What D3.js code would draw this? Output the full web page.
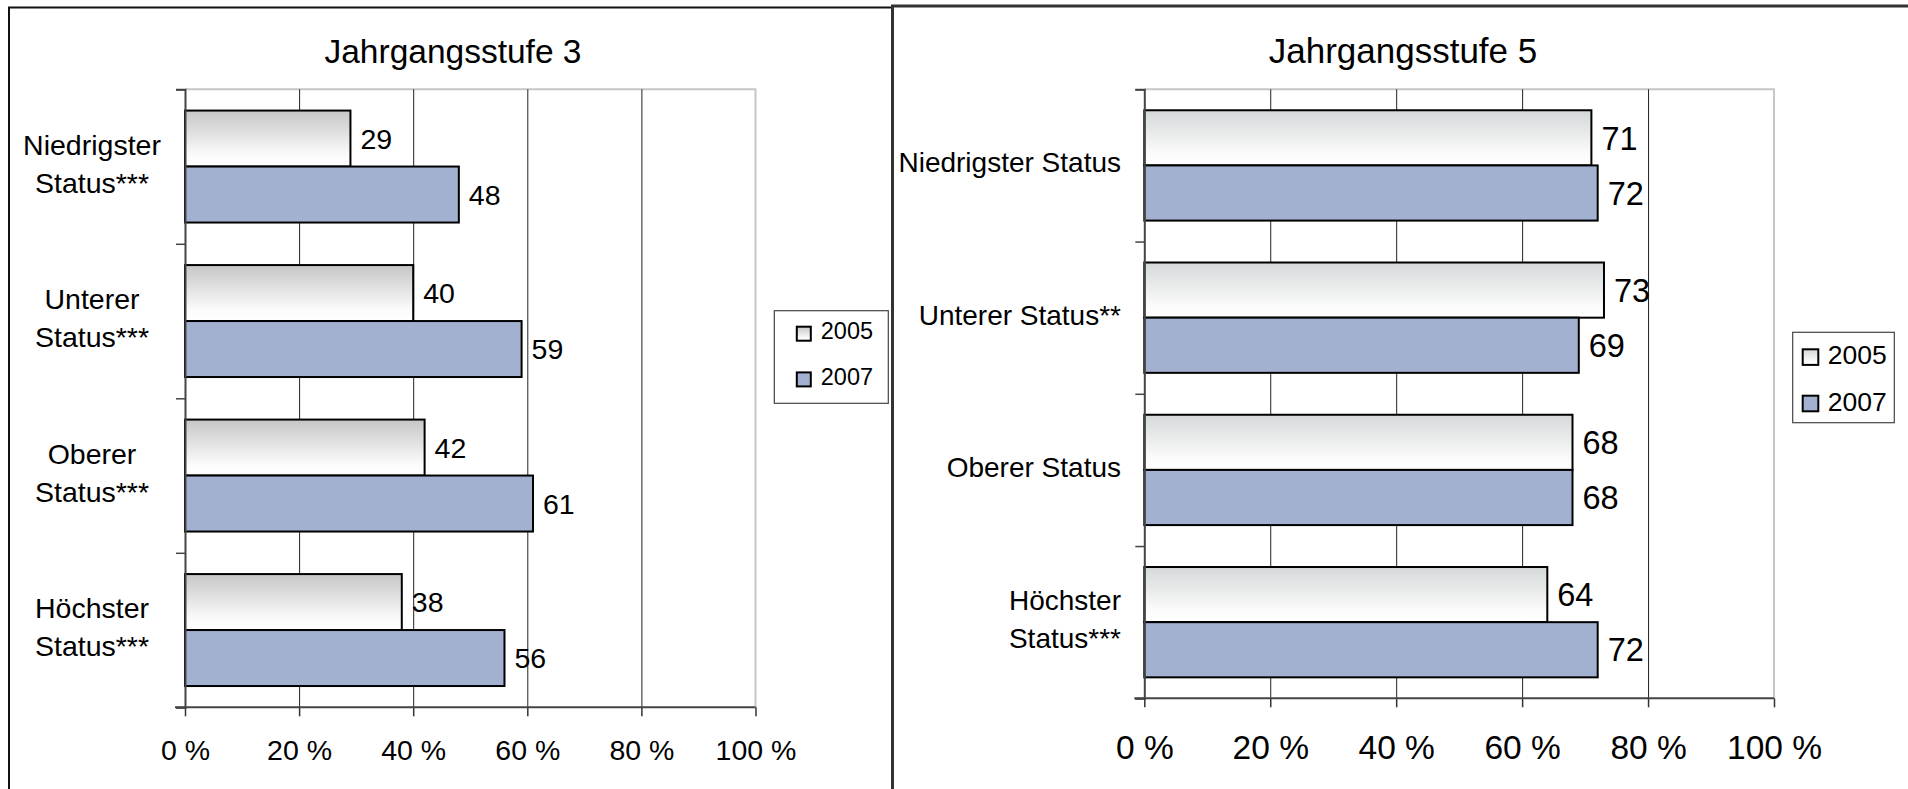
<!DOCTYPE html>
<html>
<head>
<meta charset="utf-8">
<script src="https://cdn.jsdelivr.net/npm/d3@7"></script>
<style>
  body { margin: 0; background: #fff; }
  svg { display: block; font-family: "Liberation Sans", Arial, sans-serif; }
</style>
</head>
<body>
<svg width="1908" height="789"></svg>
<script>
// chart data
const years = ["2005", "2007"];
const ticks = [0, 20, 40, 60, 80, 100];

const labels3 = [["Niedrigster", "Status***"], ["Unterer", "Status***"], ["Oberer", "Status***"], ["Höchster", "Status***"]];
const values3_2005 = [29, 40, 42, 38];
const values3_2007 = [48, 59, 61, 56];

const labels5 = [["Niedrigster Status"], ["Unterer Status**"], ["Oberer Status"], ["Höchster", "Status***"]];
const values5_2005 = [71, 73, 68, 64];
const values5_2007 = [72, 69, 68, 72];

const svg = d3.select("svg");
const defs = svg.append("defs");

// gradient fills for the 2005 bars
const addGradient = (id, top) => {
  const g = defs.append("linearGradient")
      .attr("id", id)
      .attr("x1", 0).attr("y1", 0).attr("x2", 0).attr("y2", 1);
  g.append("stop").attr("offset", "0%").attr("stop-color", top);
  g.append("stop").attr("offset", "80%").attr("stop-color", "#fbfbfb");
  g.append("stop").attr("offset", "100%").attr("stop-color", "#ffffff");
};
addGradient("grad3", "#c6c6c6");
addGradient("grad5", "#d5d9d9");

// panel frames
svg.append("path")
    .attr("d", "M9,789 V7.5 H892.5")
    .attr("fill", "none")
    .attr("stroke", "#111")
    .attr("stroke-width", 2);
svg.append("path")
    .attr("d", "M892.5,789 V6 H1908")
    .attr("fill", "none")
    .attr("stroke", "#333")
    .attr("stroke-width", 3);

const drawPanel = (p) => {
  const g = svg.append("g");
  const x = d3.scaleLinear().domain([0, 100]).range([p.x0, p.x1]);
  const y = d3.scaleBand().domain(d3.range(p.labels.length)).range([p.top, p.bottom]);
  const ySub = d3.scaleBand().domain(years).range([0, y.bandwidth()]).paddingOuter(0.38);
  const yTick = d3.scaleLinear().domain([0, p.labels.length]).range([p.top, p.bottom]);

  // title
  g.append("text")
      .attr("x", p.titleX)
      .attr("y", 63)
      .attr("text-anchor", "middle")
      .attr("font-size", p.titleSize)
      .text(p.title);

  // plot border (top and right)
  g.append("path")
      .attr("d", `M${p.x0},${p.top} H${p.x1} V${p.bottom}`)
      .attr("fill", "none")
      .attr("stroke", "#c6c6c6")
      .attr("stroke-width", 2);

  // gridlines
  g.append("g")
      .attr("transform", `translate(0,${p.bottom})`)
      .call(d3.axisBottom(x).tickValues(ticks.slice(1, -1)).tickSize(-(p.bottom - p.top)).tickFormat(""))
      .call(s => s.select(".domain").remove())
      .call(s => s.selectAll("line").attr("stroke", "#222").attr("stroke-width", 1));

  // bars
  const series = [
    { year: "2005", values: p.v2005, fill: `url(#${p.grad})` },
    { year: "2007", values: p.v2007, fill: "#a2b1d0" }
  ];
  series.forEach(s => {
    g.selectAll(null)
      .data(s.values)
      .enter().append("rect")
        .attr("x", x(0))
        .attr("y", (d, i) => y(i) + ySub(s.year))
        .attr("width", d => x(d) - x(0))
        .attr("height", ySub.bandwidth())
        .attr("fill", s.fill)
        .attr("stroke", "#000")
        .attr("stroke-width", 2);
    g.selectAll(null)
      .data(s.values)
      .enter().append("text")
        .attr("x", d => x(d) + 10)
        .attr("y", (d, i) => y(i) + ySub(s.year) + ySub.bandwidth() / 2)
        .attr("dy", "0.36em")
        .attr("font-size", p.valueSize)
        .text(d => d);
  });

  // category axis
  g.append("g")
      .attr("transform", `translate(${p.x0},0)`)
      .call(d3.axisLeft(yTick).ticks(p.labels.length).tickSize(9).tickFormat(""))
      .call(s => s.select(".domain").attr("stroke", "#444").attr("stroke-width", 2))
      .call(s => s.selectAll("line").attr("stroke", "#444").attr("stroke-width", 1.5));

  // value axis
  g.append("g")
      .attr("transform", `translate(0,${p.bottom})`)
      .call(d3.axisBottom(x).tickValues(ticks).tickSize(9).tickPadding(p.tickPad).tickFormat(d => `${d} %`))
      .call(s => s.select(".domain").remove())
      .call(s => s.selectAll("line").attr("stroke", "#333").attr("stroke-width", 1.5))
      .call(s => s.selectAll("text").attr("font-size", p.tickSize).attr("fill", "#000")
        .attr("font-family", "'Liberation Sans', Arial, sans-serif"));
  g.append("line")
      .attr("x1", p.x0 - 10).attr("x2", p.x1)
      .attr("y1", p.bottom).attr("y2", p.bottom)
      .attr("stroke", "#444")
      .attr("stroke-width", 2);

  // category labels
  p.labels.forEach((lines, i) => {
    const c = y(i) + y.bandwidth() / 2;
    const t = g.append("text")
        .attr("font-size", p.labelSize)
        .attr("text-anchor", "middle");
    const offs = lines.length === 1 ? [7] : [-12, 26];
    lines.forEach((l, j) => t.append("tspan").attr("y", c + offs[j]).text(l));
    // centred lines; on the right panel the block is aligned to the axis
    const w = d3.max(t.selectAll("tspan").nodes(), n => n.getComputedTextLength());
    const cx = p.labelAlign === "middle" ? p.labelX : p.labelX - w / 2;
    t.selectAll("tspan").attr("x", cx);
  });

  // legend
  const lg = g.append("g").attr("transform", `translate(${p.legend.x},${p.legend.y})`);
  lg.append("rect")
      .attr("width", p.legend.w).attr("height", p.legend.h)
      .attr("fill", "#fff")
      .attr("stroke", "#444")
      .attr("stroke-width", 1.2);
  series.forEach((s, i) => {
    lg.append("rect")
        .attr("x", p.legend.mx)
        .attr("y", p.legend.my + i * p.legend.step)
        .attr("width", p.legend.ms).attr("height", p.legend.ms)
        .attr("fill", s.fill)
        .attr("stroke", "#000")
        .attr("stroke-width", 2);
    lg.append("text")
        .attr("x", p.legend.tx)
        .attr("y", p.legend.ty + i * p.legend.step)
        .attr("font-size", p.legend.fs)
        .text(s.year);
  });
};

drawPanel({
  title: "Jahrgangsstufe 3", titleX: 453, titleSize: 33.5,
  labels: labels3, v2005: values3_2005, v2007: values3_2007, grad: "grad3",
  x0: 185, x1: 755.5, top: 89.3, bottom: 707.3,
  valueSize: 28.5, tickSize: 28.5, tickPad: 23, labelSize: 28.5,
  labelX: 92, labelAlign: "middle",
  legend: { x: 774.3, y: 310.7, w: 114, h: 92.6, mx: 22.5, my: 16, ms: 14, step: 45.7, tx: 46.5, ty: 28.6, fs: 23.5 }
});

drawPanel({
  title: "Jahrgangsstufe 5", titleX: 1403, titleSize: 35,
  labels: labels5, v2005: values5_2005, v2007: values5_2007, grad: "grad5",
  x0: 1144.3, x1: 1774, top: 89.3, bottom: 698.3,
  valueSize: 32.5, tickSize: 33.5, tickPad: 28, labelSize: 28,
  labelX: 1121, labelAlign: "right",
  legend: { x: 1792.7, y: 332.3, w: 101.6, h: 90.4, mx: 10, my: 17, ms: 15.6, step: 46.4, tx: 35, ty: 32, fs: 26.5 }
});
</script>
</body>
</html>
